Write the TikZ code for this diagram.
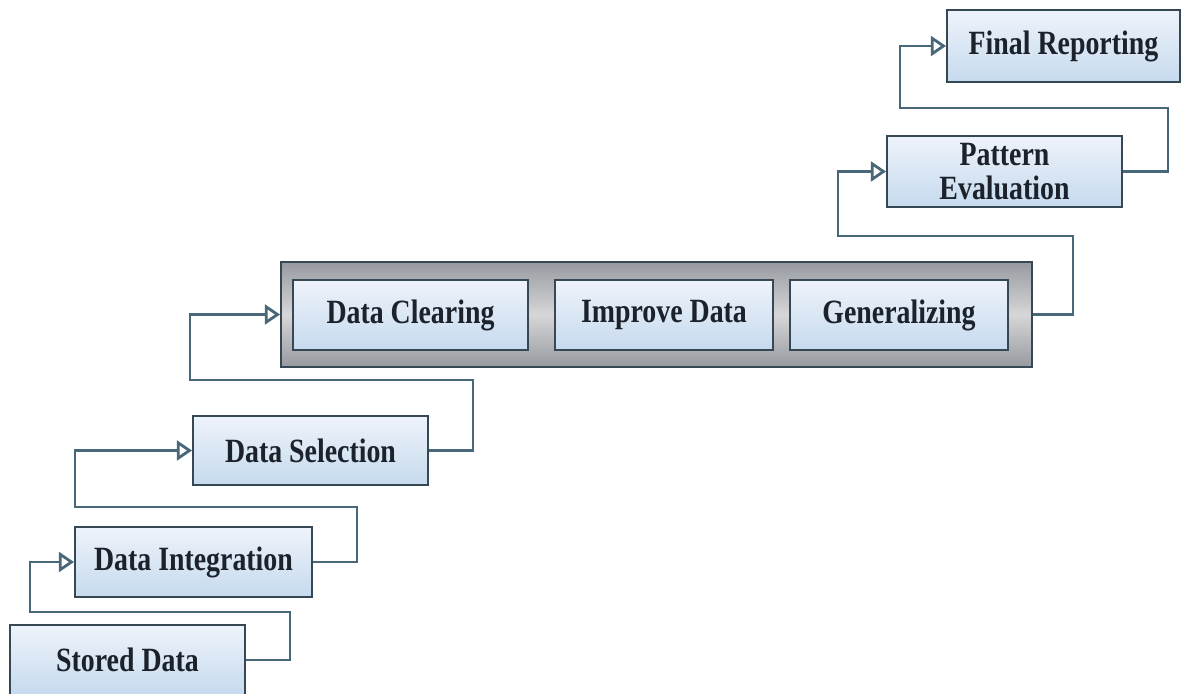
\documentclass[tikz,border=0pt]{standalone}
\usepackage{fontspec}
\setmainfont{Liberation Serif}[FakeStretch=0.82]
\usetikzlibrary{arrows.meta}
\definecolor{linec}{RGB}{72,104,122}
\definecolor{edgec}{RGB}{55,72,85}
\definecolor{boxtop}{RGB}{238,243,250}
\definecolor{boxbot}{RGB}{198,218,238}
\definecolor{txtc}{RGB}{28,34,44}
\definecolor{grpout}{RGB}{150,154,160}
\definecolor{grpin}{RGB}{215,214,216}
\tikzset{
  stepbox/.style={draw=edgec, line width=1.6pt, top color=boxtop, bottom color=boxbot,
    inner sep=0pt, text=txtc, font=\fontsize{29}{31}\selectfont\bfseries, align=center},
  grpbox/.style={draw=edgec, line width=1.6pt, top color=grpout, bottom color=grpout, middle color=grpin, inner sep=0pt},
  conn/.style={draw=linec, line width=2.4pt, -{Triangle[open, length=13pt, width=17pt, fill=white]}},
}
\begin{document}
\begin{tikzpicture}[x=0.03cm, y=-0.03cm]
\useasboundingbox (0,0) rectangle (1181,693);
\fill[white] (0,0) rectangle (1181,693);
\node[stepbox, minimum width=235*0.03cm, minimum height=70*0.03cm] (sd) at (127.5,660) {Stored Data};
\node[stepbox, minimum width=237*0.03cm, minimum height=70*0.03cm] (di) at (193.5,562) {Data Integration};
\node[stepbox, minimum width=235*0.03cm, minimum height=69*0.03cm] (ds) at (310.5,450.5) {Data Selection};
\node[grpbox, minimum width=751*0.03cm, minimum height=105*0.03cm] (grp) at (656.5,314.5) {};
\node[stepbox, minimum width=235*0.03cm, minimum height=70*0.03cm] (dc) at (410.5,315) {Data Clearing};
\node[stepbox, minimum width=218*0.03cm, minimum height=70*0.03cm] (id) at (664,315) {Improve Data};
\node[stepbox, minimum width=218*0.03cm, minimum height=70*0.03cm] (ge) at (899,315) {Generalizing};
\node[stepbox, minimum width=235*0.03cm, minimum height=71*0.03cm] (pe) at (1004.5,171.5) {Pattern\\[-2pt]Evaluation};
\node[stepbox, minimum width=233*0.03cm, minimum height=72*0.03cm] (fr) at (1063.5,46) {Final Reporting};
\draw[conn] (sd.east) -| (290,612) -- (30,612) |- (di.west);
\draw[conn] (di.east) -| (357,507) -- (75,507) |- (ds.west);
\draw[conn] (ds.east) -| (473,380) -- (190,380) |- (grp.west);
\draw[conn] (grp.east) -| (1073,236) -- (838,236) |- (pe.west);
\draw[conn] (pe.east) -| (1168,108) -- (900,108) |- (fr.west);
\end{tikzpicture}
\end{document}
